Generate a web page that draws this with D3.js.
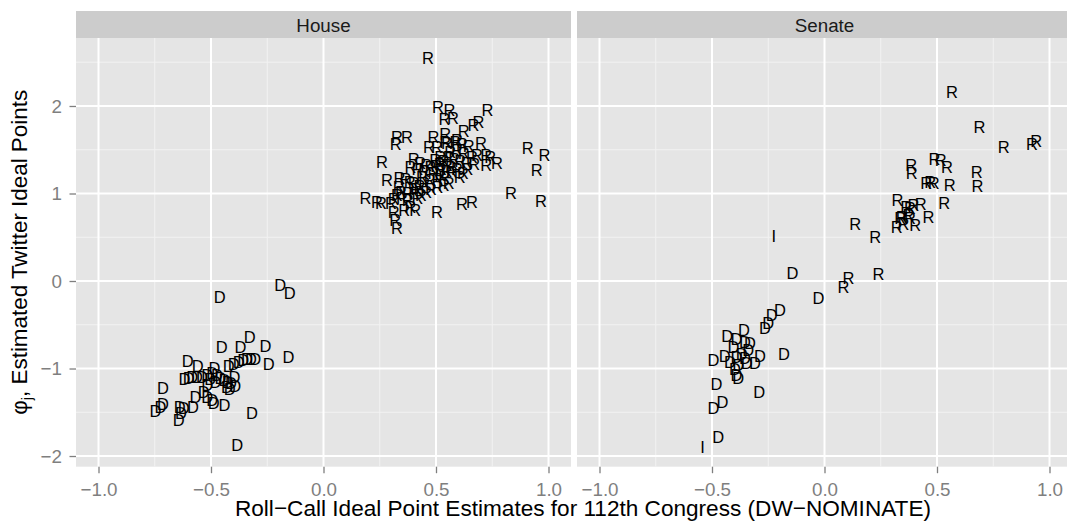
<!DOCTYPE html>
<html>
<head>
<meta charset="utf-8">
<script src="https://cdn.jsdelivr.net/npm/d3@7"></script>
<style>
  html, body { margin: 0; padding: 0; background: #ffffff; }
  svg { display: block; }
  text { font-family: "Liberation Sans", Arial, Helvetica, sans-serif; }
</style>
</head>
<body>
<svg id="chart" width="1067" height="521"></svg>
<script>
// Facets (chambers)
const chambers = ["House", "Senate"];

// Axis ticks
const xTicks = [-1.0, -0.5, 0.0, 0.5, 1.0];
const yTicks = [-2, -1, 0, 1, 2];
const xMinor = [-0.75, -0.25, 0.25, 0.75];
const yMinor = [-1.5, -0.5, 0.5, 1.5, 2.5];

// [DW-NOMINATE, Twitter ideal point] for each legislator
const houseR = [
  [0.464,2.545],[0.509,1.992],[0.560,1.954],[0.729,1.954],[0.538,1.847],[0.575,1.859],[0.689,1.821],[0.667,1.783],
  [0.623,1.718],[0.326,1.649],[0.371,1.642],[0.321,1.562],[0.541,1.680],[0.489,1.642],[0.700,1.581],[0.908,1.524],
  [0.982,1.440],[0.948,1.268],[0.833,1.009],[0.966,0.914],[0.260,1.356],[0.469,1.527],[0.504,1.527],[0.549,1.573],
  [0.586,1.592],[0.615,1.565],[0.645,1.543],[0.563,1.478],[0.593,1.497],[0.623,1.459],[0.660,1.421],[0.682,1.440],
  [0.723,1.440],[0.741,1.421],[0.771,1.345],[0.723,1.325],[0.670,1.337],[0.637,1.345],[0.608,1.375],[0.581,1.390],
  [0.556,1.421],[0.534,1.375],[0.516,1.337],[0.501,1.314],[0.475,1.299],[0.457,1.325],[0.430,1.345],[0.401,1.390],
  [0.386,1.299],[0.418,1.276],[0.448,1.261],[0.489,1.238],[0.522,1.276],[0.546,1.261],[0.566,1.299],[0.593,1.276],
  [0.620,1.238],[0.640,1.276],[0.605,1.192],[0.537,1.184],[0.519,1.211],[0.507,1.162],[0.472,1.154],[0.448,1.116],
  [0.427,1.085],[0.412,1.047],[0.401,1.116],[0.383,1.135],[0.364,1.162],[0.338,1.173],[0.282,1.154],[0.334,1.078],
  [0.344,1.017],[0.374,1.002],[0.403,1.002],[0.326,0.983],[0.312,0.933],[0.349,0.945],[0.374,0.925],[0.418,0.945],
  [0.433,0.983],[0.457,1.021],[0.478,1.047],[0.507,1.078],[0.534,1.097],[0.557,1.116],[0.386,0.849],[0.408,0.811],
  [0.359,0.811],[0.312,0.792],[0.319,0.697],[0.326,0.602],[0.186,0.945],[0.238,0.906],[0.255,0.887],[0.300,0.887],
  [0.504,0.792],[0.615,0.876],[0.660,0.906],[0.519,1.421],[0.497,1.383],[0.549,1.325],[0.571,1.249],[0.438,1.192],
  [0.593,1.611],[0.541,1.592]
];
const houseD = [
  [-0.461,-0.179],[-0.192,-0.046],[-0.150,-0.141],[-0.328,-0.644],[-0.452,-0.758],[-0.369,-0.758],[-0.258,-0.743],
  [-0.156,-0.865],[-0.244,-0.949],[-0.399,-0.949],[-0.377,-0.922],[-0.357,-0.903],[-0.340,-0.895],[-0.322,-0.888],
  [-0.303,-0.895],[-0.421,-0.971],[-0.603,-0.910],[-0.559,-0.971],[-0.618,-1.124],[-0.584,-1.101],[-0.562,-1.093],
  [-0.540,-1.093],[-0.517,-1.074],[-0.495,-1.055],[-0.485,-0.998],[-0.473,-1.074],[-0.458,-1.112],[-0.440,-1.131],
  [-0.426,-1.150],[-0.411,-1.170],[-0.396,-1.101],[-0.429,-1.215],[-0.417,-1.238],[-0.517,-1.189],[-0.532,-1.265],
  [-0.517,-1.322],[-0.495,-1.360],[-0.488,-1.398],[-0.440,-1.417],[-0.569,-1.330],[-0.580,-1.436],[-0.621,-1.455],
  [-0.639,-1.436],[-0.633,-1.512],[-0.643,-1.589],[-0.713,-1.227],[-0.713,-1.406],[-0.725,-1.436],[-0.747,-1.482],
  [-0.318,-1.505],[-0.384,-1.874],[-0.599,-1.112],[-0.503,-1.124],[-0.480,-1.150],[-0.392,-1.200]
];
const senateR = [
  [0.566,2.156],[0.689,1.763],[0.796,1.527],[0.922,1.565],[0.941,1.603],[0.385,1.325],[0.388,1.230],[0.489,1.390],
  [0.517,1.382],[0.544,1.306],[0.677,1.249],[0.680,1.085],[0.556,1.097],[0.452,1.116],[0.470,1.135],[0.485,1.123],
  [0.324,0.925],[0.363,0.849],[0.395,0.868],[0.428,0.876],[0.532,0.887],[0.373,0.754],[0.336,0.716],[0.462,0.735],
  [0.351,0.651],[0.403,0.640],[0.321,0.613],[0.380,0.716],[0.136,0.651],[0.225,0.506],[0.240,0.080],[0.106,0.030],
  [0.084,-0.065],[0.380,0.830],[0.343,0.735]
];
const senateD = [
  [-0.142,0.095],[-0.027,-0.198],[-0.198,-0.331],[-0.235,-0.389],[-0.250,-0.484],[-0.265,-0.541],[-0.358,-0.560],
  [-0.432,-0.629],[-0.391,-0.667],[-0.354,-0.693],[-0.331,-0.712],[-0.180,-0.834],[-0.287,-0.857],[-0.494,-0.903],
  [-0.443,-0.857],[-0.420,-0.922],[-0.391,-0.865],[-0.368,-0.834],[-0.354,-0.884],[-0.346,-0.941],[-0.383,-0.960],
  [-0.309,-0.933],[-0.398,-1.010],[-0.391,-1.074],[-0.383,-1.112],[-0.480,-1.177],[-0.290,-1.265],[-0.453,-1.379],
  [-0.494,-1.455],[-0.472,-1.787],[-0.339,-0.789],[-0.405,-0.750]
];
const senateI = [[-0.225,0.514],[-0.542,-1.901]];

// Party label per group, by chamber
const groups = {
  House:  [["R", houseR], ["D", houseD]],
  Senate: [["R", senateR], ["D", senateD], ["I", senateI]]
};

// Layout
const panelTop = 38, panelBottom = 466.7;
const stripTop = 11;
const panelWidth = 495, panelGap = 6;
const panelLeft0 = 76;
const xDomain = [-1.1, 1.1];
const yDomain = [-2.122, 2.777];

const svg = d3.select("#chart");
const y = d3.scaleLinear().domain(yDomain).range([panelBottom, panelTop]);

const fmtX = d3.format(".1f");
const fmtY = d3.format("d");

chambers.forEach((name, i) => {
  const left = panelLeft0 + i * (panelWidth + panelGap);
  const x = d3.scaleLinear().domain(xDomain).range([left, left + panelWidth]);
  const g = svg.append("g");

  // strip
  g.append("rect").attr("x", left).attr("y", stripTop)
    .attr("width", panelWidth).attr("height", panelTop - stripTop)
    .attr("fill", "#cccccc");
  g.append("text").attr("x", left + panelWidth / 2).attr("y", 32)
    .attr("text-anchor", "middle").attr("font-size", 18.8).attr("fill", "#1a1a1a")
    .text(name);

  // panel background
  g.append("rect").attr("x", left).attr("y", panelTop)
    .attr("width", panelWidth).attr("height", panelBottom - panelTop)
    .attr("fill", "#e5e5e5");

  // minor grid
  g.selectAll(".vmin").data(xMinor).join("line")
    .attr("x1", d => x(d)).attr("x2", d => x(d))
    .attr("y1", panelTop).attr("y2", panelBottom)
    .attr("stroke", "#f2f2f2").attr("stroke-width", 1);
  g.selectAll(".hmin").data(yMinor).join("line")
    .attr("x1", left).attr("x2", left + panelWidth)
    .attr("y1", d => y(d)).attr("y2", d => y(d))
    .attr("stroke", "#f2f2f2").attr("stroke-width", 1);

  // major grid
  g.selectAll(".vmaj").data(xTicks).join("line")
    .attr("x1", d => x(d)).attr("x2", d => x(d))
    .attr("y1", panelTop).attr("y2", panelBottom)
    .attr("stroke", "#ffffff").attr("stroke-width", 2);
  g.selectAll(".hmaj").data(yTicks).join("line")
    .attr("x1", left).attr("x2", left + panelWidth)
    .attr("y1", d => y(d)).attr("y2", d => y(d))
    .attr("stroke", "#ffffff").attr("stroke-width", 2);

  // party letters
  groups[name].forEach(([party, pts]) => {
    g.append("g").selectAll("text").data(pts).join("text")
      .attr("x", d => x(d[0])).attr("y", d => y(d[1]))
      .attr("dy", "0.36em")
      .attr("text-anchor", "middle")
      .attr("font-size", 16.5)
      .attr("fill", "#000000")
      .text(party);
  });

  // x axis
  const xa = svg.append("g").attr("transform", `translate(0,${panelBottom})`)
    .call(d3.axisBottom(x).tickValues(xTicks).tickFormat(fmtX).tickSizeInner(6.5).tickSizeOuter(0).tickPadding(9));
  xa.select(".domain").remove();
  xa.selectAll("line").attr("stroke", "#7f7f7f").attr("stroke-width", 1.3);
  xa.selectAll("text").attr("fill", "#7f7f7f").attr("font-size", 18.8)
    .style("font-family", "'Liberation Sans', Arial, sans-serif");

  // y axis on first panel only
  if (i === 0) {
    const ya = svg.append("g").attr("transform", `translate(${left},0)`)
      .call(d3.axisLeft(y).tickValues(yTicks).tickFormat(fmtY).tickSizeInner(6.5).tickSizeOuter(0).tickPadding(7.5));
    ya.select(".domain").remove();
    ya.selectAll("line").attr("stroke", "#7f7f7f").attr("stroke-width", 1.3);
    ya.selectAll("text").attr("fill", "#7f7f7f").attr("font-size", 18.8)
      .style("font-family", "'Liberation Sans', Arial, sans-serif");
  }
});

// axis titles
svg.append("text")
  .attr("x", 583).attr("y", 516)
  .attr("text-anchor", "middle").attr("font-size", 22.6).attr("fill", "#000")
  .text("Roll\u2212Call Ideal Point Estimates for 112th Congress (DW\u2212NOMINATE)");

const yt = svg.append("text")
  .attr("transform", `translate(26.6,${(panelTop + panelBottom) / 2}) rotate(-90)`)
  .attr("text-anchor", "middle").attr("font-size", 22.4).attr("fill", "#000");
yt.append("tspan").text("\u03c6");
yt.append("tspan").attr("font-size", 15).attr("dy", 5).text("j");
yt.append("tspan").attr("dy", -5).text(", Estimated Twitter Ideal Points");
</script>
</body>
</html>
